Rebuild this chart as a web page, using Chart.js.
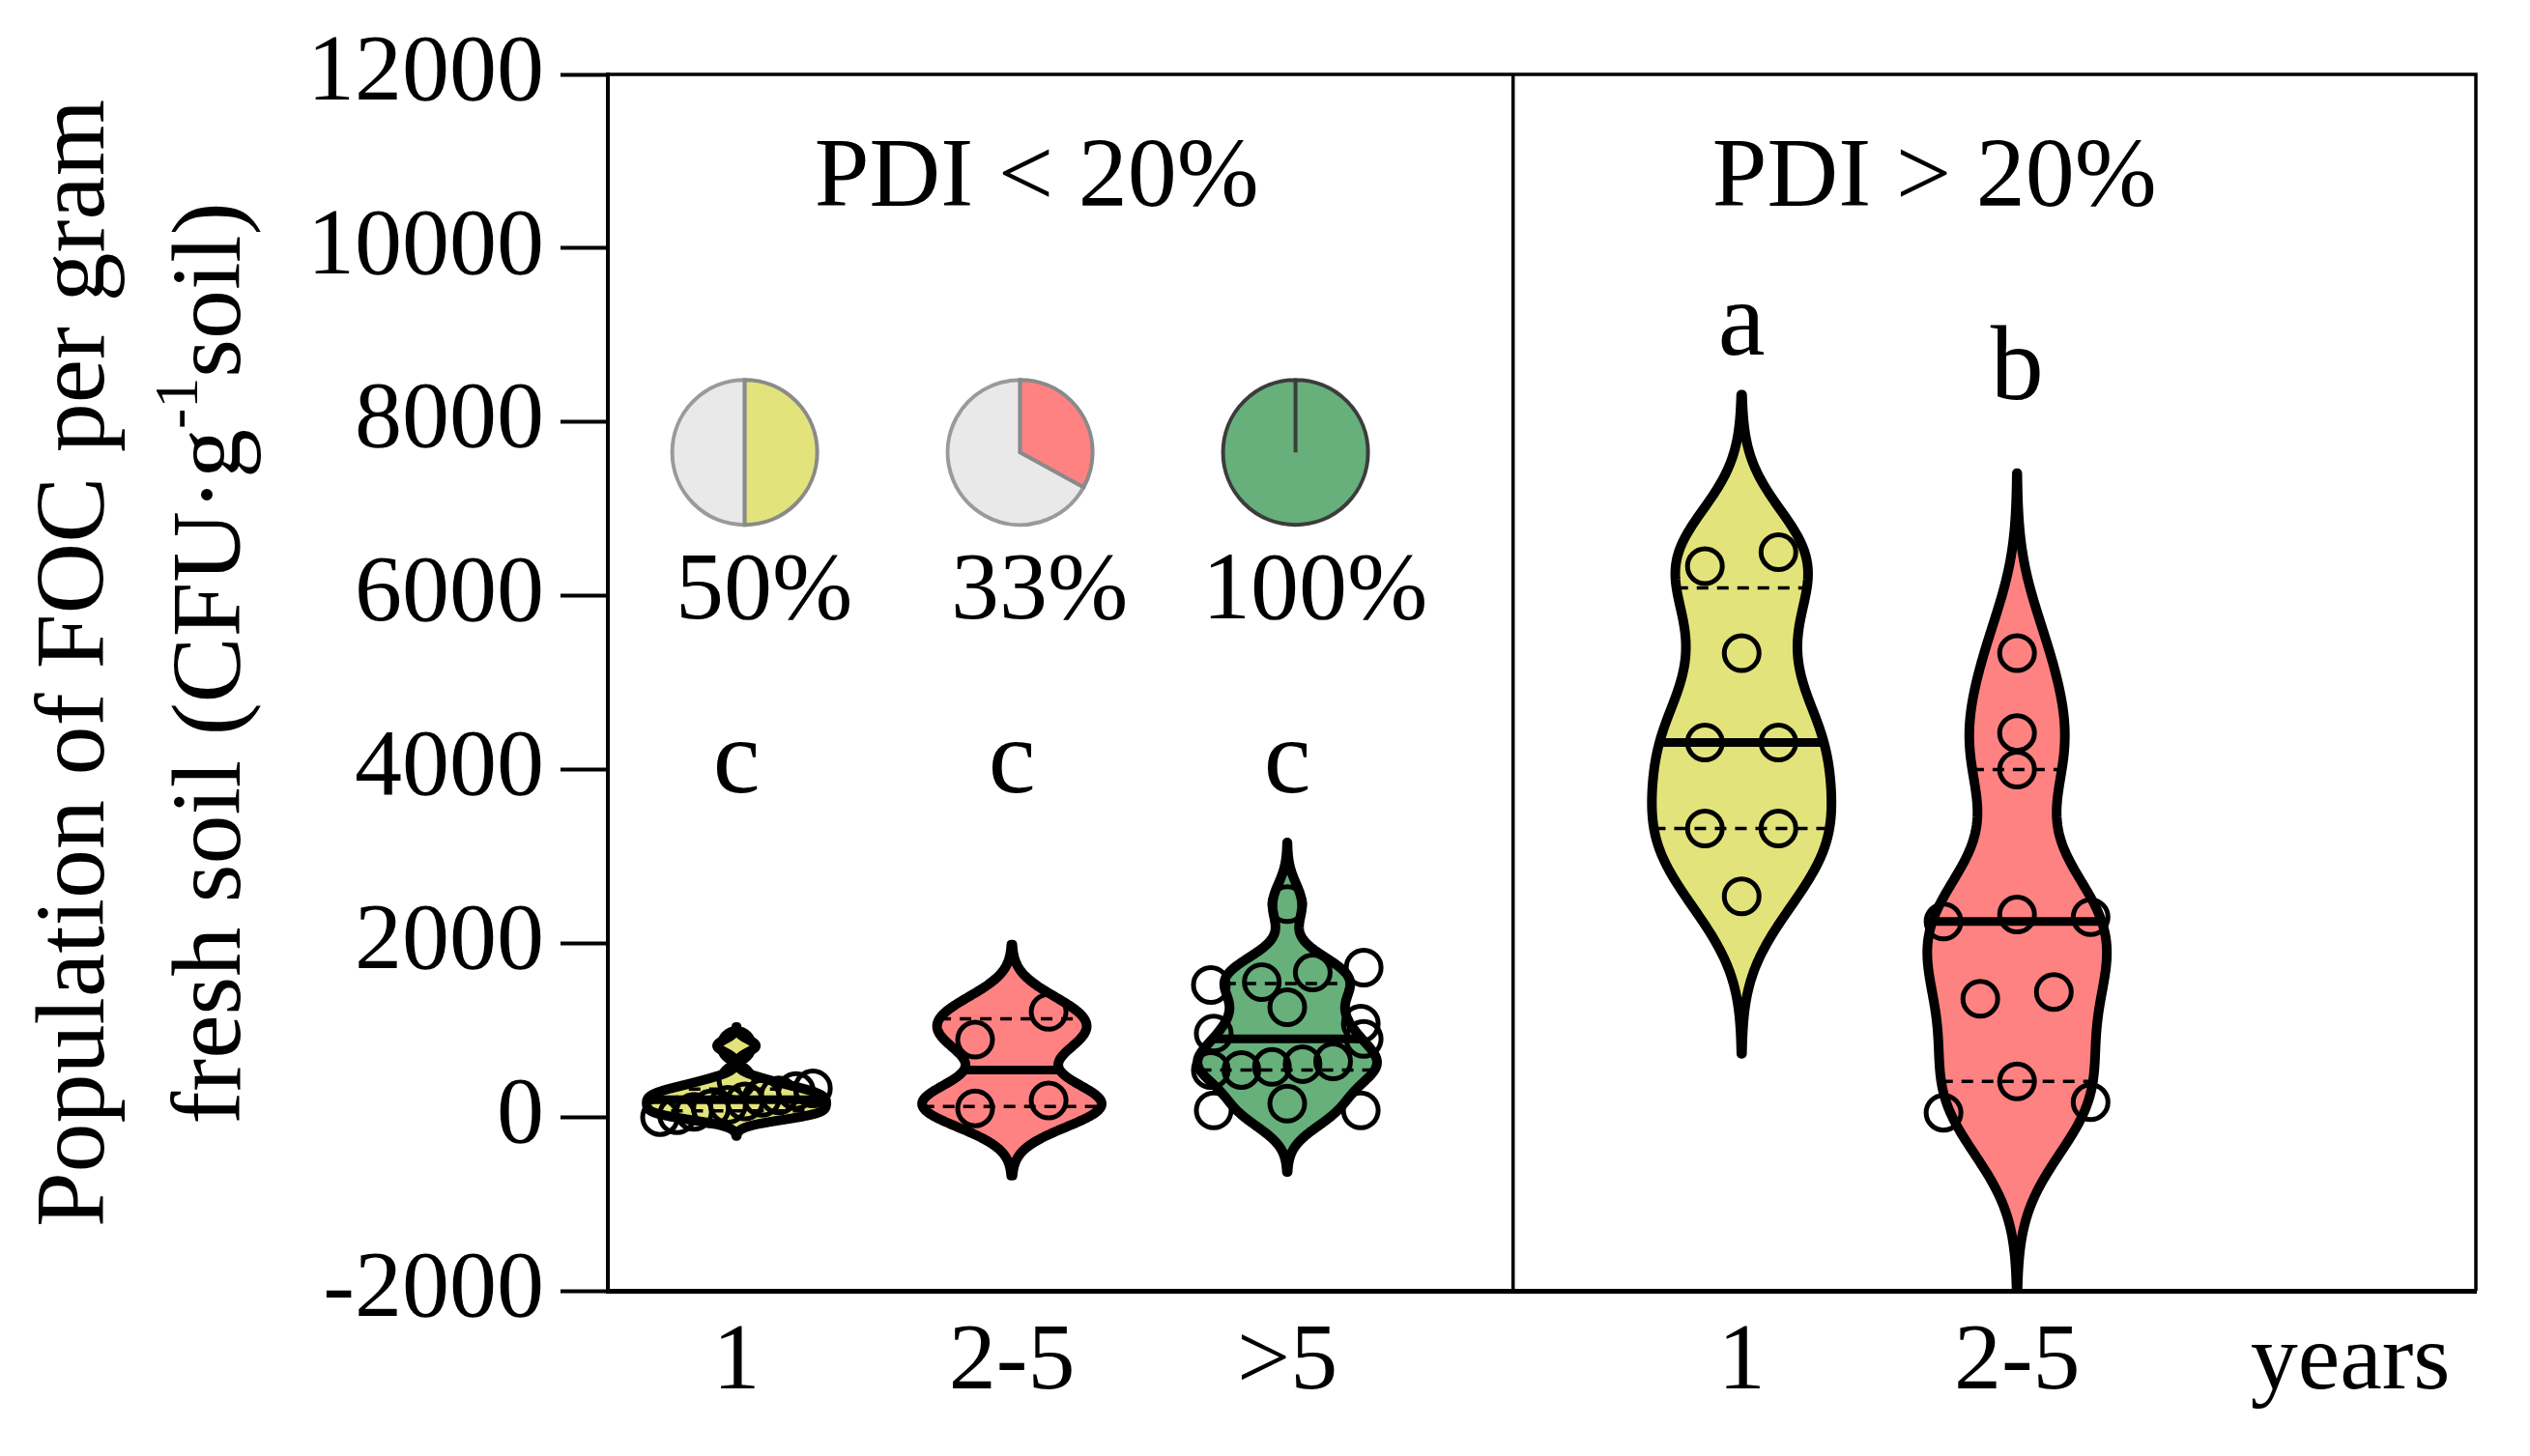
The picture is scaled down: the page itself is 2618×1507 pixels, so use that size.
<!DOCTYPE html>
<html>
<head>
<meta charset="utf-8">
<title>Population of FOC per gram fresh soil</title>
<script src="https://cdn.jsdelivr.net/npm/chart.js@4.4.1/dist/chart.umd.min.js"></script>
<style>
  html, body { margin: 0; padding: 0; background: #fff; }
  #wrap { width: 2618px; height: 1507px; }
</style>
</head>
<body>
<div id="wrap"><canvas id="chart"></canvas></div>
<script>
// categories (planting years) and tick labels
var groupNames = ['1', '2-5', '>5', '1', '2-5'];
var tickLabels = ['1', '2-5', '>5', '1', '2-5', 'years'];
var panelTitles = ['PDI < 20%', 'PDI > 20%'];

// FOC population (CFU per g fresh soil), one value per field
var lowOneYear = [820, 420, 330, 300, 250, 220, 180, 140, 100, 60, 20, 0];
var lowTwoToFive = [1210, 890, 190, 100];
var lowOverFive = [2450, 1720, 1663, 1553, 1519, 1264, 1075, 960, 900, 640, 609, 576, 542, 542, 154, 76, 76];
var highOneYear = [6500, 6340, 5340, 4310, 4310, 3320, 3320, 2540];
var highTwoToFive = [5340, 4420, 4000, 2330, 2300, 2250, 1440, 1360, 410, 170, 50];

// share of fields (%) in the small pies, and significance letters
var pieShares = [50, 33, 100];
var pieLabels = ['50%', '33%', '100%'];
var letters = ['c', 'c', 'c', 'a', 'b'];

// y axis
var yMin = -2000, yMax = 12000, yStep = 2000;

// ---- layout / style (not data) ----
var groupX = [1, 2, 3, 4.65, 5.65];
var tickX = groupX.concat([6.86]);
var xMin = 0.533, xMax = 7.316, dividerX = 3.82;
var titleX = [2.09, 5.35], titleY = 10490;
var letterY = [3740, 3740, 3740, 8770, 8260];
var pieY = 7650, pieTextY = 5740, pieRadius = 75;
var fills = ['#e3e37b', '#ff8282', '#67b07b', '#e3e37b', '#ff8282'];
var violinHalf = 0.326;   // x units at peak density
var binSize = 380;        // value range grouped into one row of dots
var maxStep = 0.267, maxSpan = 0.555;
var serif = '"Liberation Serif", "Times New Roman", serif';

var groupValues = [lowOneYear, lowTwoToFive, lowOverFive, highOneYear, highTwoToFive];

function quantile(sorted, p) {
    var n = sorted.length;
    var pos = (n + 1) * p;
    if (pos <= 1) return sorted[0];
    if (pos >= n) return sorted[n - 1];
    var lo = Math.floor(pos), frac = pos - lo;
    return sorted[lo - 1] + frac * (sorted[lo] - sorted[lo - 1]);
}

function describe(values) {
    var s = values.slice().sort(function(a, b) { return a - b; });
    var n = s.length;
    var mean = s.reduce(function(a, b) { return a + b; }, 0) / n;
    var sd = Math.sqrt(s.reduce(function(a, v) { return a + (v - mean) * (v - mean); }, 0) / (n - 1));
    var q1 = quantile(s, 0.25), med = quantile(s, 0.5), q3 = quantile(s, 0.75);
    var spread = Math.min(sd, (q3 - q1) / 1.34);
    return { sorted: s, min: s[0], max: s[n - 1], q1: q1, med: med, q3: q3,
             h: 0.63 * spread * Math.pow(n, -0.2) };
}

function density(values, h, y) {
    var sum = 0;
    values.forEach(function(v) {
        var z = (y - v) / h;
        sum += Math.exp(-0.5 * z * z);
    });
    return sum;
}

// spread dots sideways, row by row, like a beeswarm
function swarm(values, center) {
    var sorted = values.slice().sort(function(a, b) { return a - b; });
    var rows = [], row = null;
    sorted.forEach(function(v) {
        if (!row || v - row[0] > binSize) { row = [v]; rows.push(row); }
        else row.push(v);
    });
    var pts = [];
    rows.forEach(function(r) {
        var n = r.length;
        if (n === 1) { pts.push({ x: center, y: r[0] }); return; }
        var d = Math.min(maxStep, maxSpan / (n - 1));
        var offsets = [];
        if (n % 2 === 1) {
            pts.push({ x: center, y: r.pop() });
            var k = (n - 1) / 2;
            for (var i = -k; i <= k; i++) if (i !== 0) offsets.push(i * d);
        } else {
            for (var j = 0; j < n; j++) offsets.push((j - (n - 1) / 2) * d);
        }
        r.forEach(function(v, idx) { pts.push({ x: center + offsets[idx], y: v }); });
    });
    return pts;
}

var stats = groupValues.map(describe);

var violinPlugin = {
    id: 'violins',
    beforeDatasetsDraw: function(chart) {
        var ctx = chart.ctx, xs = chart.scales.x, ys = chart.scales.y, area = chart.chartArea;
        var unitPx = xs.getPixelForValue(1) - xs.getPixelForValue(0);
        ctx.save();
        ctx.beginPath();
        ctx.rect(area.left, area.top, area.width, area.height);
        ctx.clip();
        groupValues.forEach(function(vals, i) {
            var st = stats[i];
            var lo = st.min - 3 * st.h, hi = st.max + 3 * st.h;
            var steps = 300, pts = [], maxD = 0;
            for (var k = 0; k <= steps; k++) {
                var v = lo + (hi - lo) * k / steps;
                var d = density(vals, st.h, v);
                if (d > maxD) maxD = d;
                pts.push([v, d]);
            }
            var cx = xs.getPixelForValue(groupX[i]);
            var half = violinHalf * unitPx;
            var widthAt = function(v) { return half * density(vals, st.h, v) / maxD; };

            ctx.beginPath();
            pts.forEach(function(p, k) {
                var x = cx + half * p[1] / maxD, y = ys.getPixelForValue(p[0]);
                if (k === 0) ctx.moveTo(x, y); else ctx.lineTo(x, y);
            });
            for (var m = pts.length - 1; m >= 0; m--) {
                ctx.lineTo(cx - half * pts[m][1] / maxD, ys.getPixelForValue(pts[m][0]));
            }
            ctx.closePath();
            ctx.fillStyle = fills[i];
            ctx.fill();
            ctx.lineWidth = 10;
            ctx.lineJoin = 'round';
            ctx.strokeStyle = '#000';
            ctx.stroke();

            // quartiles dashed, median solid
            [st.q1, st.q3].forEach(function(q) {
                var w = widthAt(q), y = ys.getPixelForValue(q);
                ctx.beginPath();
                ctx.setLineDash([12, 9]);
                ctx.lineWidth = 3.5;
                ctx.moveTo(cx - w, y);
                ctx.lineTo(cx + w, y);
                ctx.stroke();
            });
            ctx.setLineDash([]);
            var wm = widthAt(st.med), ym = ys.getPixelForValue(st.med);
            ctx.beginPath();
            ctx.lineWidth = 9;
            ctx.moveTo(cx - wm, ym);
            ctx.lineTo(cx + wm, ym);
            ctx.stroke();
        });
        ctx.restore();
    }
};

var annotationPlugin = {
    id: 'annotations',
    afterDraw: function(chart) {
        var ctx = chart.ctx, xs = chart.scales.x, ys = chart.scales.y, area = chart.chartArea;
        ctx.save();

        // frame and panel divider
        ctx.strokeStyle = '#000';
        ctx.lineWidth = 3.5;
        ctx.beginPath();
        ctx.moveTo(area.left, area.top);
        ctx.lineTo(area.right, area.top);
        ctx.lineTo(area.right, area.bottom);
        var dx = xs.getPixelForValue(dividerX);
        ctx.moveTo(dx, area.top);
        ctx.lineTo(dx, area.bottom);
        ctx.stroke();

        // pies
        pieShares.forEach(function(share, i) {
            var cx = xs.getPixelForValue(groupX[i] + 0.03), cy = ys.getPixelForValue(pieY);
            var start = -Math.PI / 2, end = start + 2 * Math.PI * share / 100;
            if (share < 100) {
                ctx.beginPath();
                ctx.moveTo(cx, cy);
                ctx.arc(cx, cy, pieRadius, end, start + 2 * Math.PI);
                ctx.closePath();
                ctx.fillStyle = '#e9e9e9';
                ctx.fill();
                ctx.strokeStyle = '#9a9a9a';
                ctx.lineWidth = 4;
                ctx.stroke();
            }
            ctx.beginPath();
            ctx.moveTo(cx, cy);
            ctx.arc(cx, cy, pieRadius, start, end);
            ctx.closePath();
            ctx.fillStyle = fills[i];
            ctx.fill();
            ctx.strokeStyle = share < 100 ? '#8a8a8a' : '#3c3c3c';
            ctx.lineWidth = 4;
            ctx.stroke();

            ctx.fillStyle = '#000';
            ctx.font = '100px ' + serif;
            ctx.textAlign = 'center';
            ctx.textBaseline = 'alphabetic';
            ctx.fillText(pieLabels[i], xs.getPixelForValue(groupX[i] + 0.1), ys.getPixelForValue(pieTextY));
        });

        // panel titles and letters
        ctx.fillStyle = '#000';
        ctx.textAlign = 'center';
        ctx.textBaseline = 'alphabetic';
        ctx.font = '102px ' + serif;
        panelTitles.forEach(function(t, i) {
            ctx.fillText(t, xs.getPixelForValue(titleX[i]), ys.getPixelForValue(titleY));
        });
        ctx.font = '110px ' + serif;
        letters.forEach(function(t, i) {
            ctx.fillText(t, xs.getPixelForValue(groupX[i]), ys.getPixelForValue(letterY[i]));
        });

        // y axis title, two lines, with superscript
        var cy = (area.top + area.bottom) / 2 - 20;
        ctx.font = '102px ' + serif;
        ctx.save();
        ctx.translate(107, cy);
        ctx.rotate(-Math.PI / 2);
        ctx.fillText('Population of FOC per gram', 0, 0);
        ctx.restore();

        var partA = 'fresh soil (CFU\u00b7g', sup = '-1', partB = 'soil)';
        ctx.font = '102px ' + serif;
        var wA = ctx.measureText(partA).width, wB = ctx.measureText(partB).width;
        ctx.font = '64px ' + serif;
        var wS = ctx.measureText(sup).width;
        var total = wA + wS + wB;
        ctx.save();
        ctx.translate(248, cy);
        ctx.rotate(-Math.PI / 2);
        ctx.textAlign = 'left';
        ctx.font = '102px ' + serif;
        ctx.fillText(partA, -total / 2, 0);
        ctx.font = '64px ' + serif;
        ctx.fillText(sup, -total / 2 + wA, -44);
        ctx.font = '102px ' + serif;
        ctx.fillText(partB, -total / 2 + wA + wS, 0);
        ctx.restore();

        ctx.restore();
    }
};

var datasets = groupValues.map(function(vals, i) {
    return {
        label: groupNames[i],
        data: swarm(vals, groupX[i]),
        pointRadius: 18,
        pointBorderWidth: 5,
        pointBorderColor: '#000',
        pointBackgroundColor: 'rgba(0,0,0,0)',
        pointHoverRadius: 18
    };
});

var tickFont = { family: serif, size: 98 };

new Chart(document.getElementById('chart').getContext('2d'), {
    type: 'scatter',
    data: { datasets: datasets },
    options: {
        responsive: true,
        maintainAspectRatio: false,
        animation: false,
        devicePixelRatio: 1,
        layout: { padding: { top: 77, right: 56, bottom: 0, left: 0 } },
        plugins: { legend: { display: false }, tooltip: { enabled: false } },
        scales: {
            x: {
                type: 'linear',
                min: xMin,
                max: xMax,
                afterFit: function(scale) { scale.height = 171; },
                afterBuildTicks: function(scale) {
                    scale.ticks = tickX.map(function(v) { return { value: v }; });
                },
                ticks: {
                    autoSkip: false,
                    maxRotation: 0,
                    padding: 16,
                    color: '#000',
                    font: tickFont,
                    callback: function(value, index) { return tickLabels[index]; }
                },
                grid: { drawOnChartArea: false, drawTicks: false },
                border: { display: true, color: '#000', width: 5 }
            },
            y: {
                min: yMin,
                max: yMax,
                afterFit: function(scale) { scale.width = 629; },
                ticks: {
                    stepSize: yStep,
                    padding: 17,
                    color: '#000',
                    font: tickFont,
                    callback: function(value) { return String(value); }
                },
                grid: { drawOnChartArea: false, drawTicks: true, tickLength: 49, tickWidth: 4, tickColor: '#000' },
                border: { display: true, color: '#000', width: 4 }
            }
        }
    },
    plugins: [violinPlugin, annotationPlugin]
});
</script>
</body>
</html>
